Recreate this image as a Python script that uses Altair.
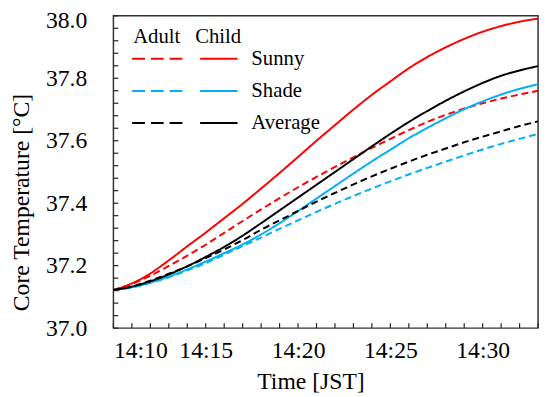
import altair as alt
import pandas as pd

# ---- data ----
minutes = list(range(10, 34))  # 14:10 ... 14:33

adult_sunny = [37.122, 37.142, 37.168, 37.199, 37.232, 37.267, 37.305, 37.343, 37.380, 37.416,
               37.451, 37.484, 37.516, 37.547, 37.577, 37.606, 37.634, 37.660, 37.683, 37.703,
               37.720, 37.735, 37.748, 37.760]
child_sunny = [37.122, 37.143, 37.175, 37.217, 37.262, 37.306, 37.352, 37.398, 37.447, 37.497,
               37.548, 37.600, 37.650, 37.700, 37.747, 37.790, 37.832, 37.868, 37.899, 37.926,
               37.949, 37.967, 37.981, 37.991]
adult_shade = [37.122, 37.130, 37.145, 37.163, 37.185, 37.208, 37.235, 37.263, 37.290, 37.318,
               37.345, 37.372, 37.398, 37.423, 37.447, 37.470, 37.492, 37.513, 37.533, 37.553,
               37.572, 37.590, 37.606, 37.622]
child_shade = [37.122, 37.131, 37.146, 37.165, 37.188, 37.213, 37.240, 37.268, 37.300, 37.336,
               37.375, 37.415, 37.455, 37.495, 37.534, 37.571, 37.608, 37.641, 37.672, 37.701,
               37.726, 37.748, 37.766, 37.781]
adult_average = [37.122, 37.133, 37.152, 37.174, 37.198, 37.224, 37.252, 37.282, 37.315, 37.345,
                 37.375, 37.405, 37.433, 37.460, 37.486, 37.510, 37.533, 37.555, 37.575, 37.595,
                 37.613, 37.630, 37.647, 37.662]
child_average = [37.122, 37.133, 37.150, 37.172, 37.198, 37.228, 37.260, 37.296, 37.336, 37.377,
                 37.418, 37.459, 37.500, 37.541, 37.582, 37.622, 37.660, 37.695, 37.728, 37.758,
                 37.785, 37.808, 37.825, 37.839]

groups = ["Adult", "Child"]
conditions = ["Sunny", "Shade", "Average"]
colors = ["#ff0000", "#00b0f0", "#000000"]

x_major = [10, 15, 20, 25, 30]
y_major = [37.0, 37.2, 37.4, 37.6, 37.8, 38.0]
x_minor = minutes
y_minor = [37.0, 37.04, 37.08, 37.12, 37.16, 37.2, 37.24, 37.28, 37.32, 37.36, 37.4,
           37.44, 37.48, 37.52, 37.56, 37.6, 37.64, 37.68, 37.72, 37.76, 37.8,
           37.84, 37.88, 37.92, 37.96, 38.0]

series = {
    ("Adult", "Sunny"): adult_sunny,
    ("Child", "Sunny"): child_sunny,
    ("Adult", "Shade"): adult_shade,
    ("Child", "Shade"): child_shade,
    ("Adult", "Average"): adult_average,
    ("Child", "Average"): child_average,
}
rows = []
for (g, c), vals in series.items():
    for m, v in zip(minutes, vals):
        rows.append({"minute": m, "temp": v, "group": g, "condition": c, "series": g + " " + c})
df = pd.DataFrame(rows)

# ---- layout ----
W, H = 431, 317
FONT = "Liberation Serif, Times New Roman, Times, DejaVu Serif, serif"
FRAME = "#333333"
TICK = 5

x_scale = alt.Scale(domain=[10, 33], nice=False, zero=False)
y_scale = alt.Scale(domain=[37.0, 38.0], nice=False, zero=False)

lines = alt.Chart(df).mark_line(strokeWidth=2, interpolate="monotone").encode(
    x=alt.X("minute:Q", scale=x_scale,
            axis=alt.Axis(values=x_major, labelExpr="'14:' + datum.value", ticks=False, tickSize=0,
                          domain=False, grid=False, labelFont=FONT, labelFontSize=24,
                          labelColor="black", labelPadding=11, title="Time [JST]",
                          titleFont=FONT, titleFontSize=24, titleFontWeight="normal",
                          titleColor="black", titleX=200, titleY=61,
                          titleBaseline="alphabetic")),
    y=alt.Y("temp:Q", scale=y_scale,
            axis=alt.Axis(values=y_major, format=".1f", ticks=False, tickSize=0, domain=False,
                          grid=False, labelFont=FONT, labelFontSize=24, labelColor="black",
                          labelPadding=27,
                          labelOffset={"condition": {"test": "datum.value >= 38", "value": 5},
                                       "value": 0},
                          title="Core Temperature [°C]", titleFont=FONT,
                          titleFontSize=24, titleFontWeight="normal", titleColor="black",
                          titleX=-86, titleY=189, titleBaseline="alphabetic",
                          titleAlign="center")),
    color=alt.Color("condition:N", scale=alt.Scale(domain=conditions, range=colors), legend=None),
    strokeDash=alt.StrokeDash("group:N", scale=alt.Scale(domain=groups, range=[[7, 4], [1, 0]]),
                              legend=None),
    detail="series:N",
)

# inward minor/major ticks, drawn from the tick value lists through the shared scales
xt_df = pd.DataFrame({"minute": x_minor})
yt_df = pd.DataFrame({"temp": y_minor})
x_ticks = alt.Chart(xt_df).mark_rule(color="#222222", strokeWidth=1.2).encode(
    x=alt.X("minute:Q", scale=x_scale), y=alt.value(H), y2=alt.value(H - TICK))
y_ticks = alt.Chart(yt_df).mark_rule(color="#222222", strokeWidth=1.2).encode(
    y=alt.Y("temp:Q", scale=y_scale), x=alt.value(0), x2=alt.value(TICK))

# ---- custom legend ----
one = pd.DataFrame({"k": [0]})
legend_layers = []


def txt(x, y, s):
    return alt.Chart(one).mark_text(align="left", baseline="middle", font=FONT, fontSize=21,
                                    color="black").encode(
        x=alt.value(x), y=alt.value(y), text=alt.value(s))


def rule(x1, x2, y, color, dash):
    return alt.Chart(one).mark_rule(color=color, strokeWidth=2, strokeDash=dash).encode(
        x=alt.value(x1), x2=alt.value(x2), y=alt.value(y))


legend_layers.append(txt(20, 22, "Adult"))
legend_layers.append(txt(83, 22, "Child"))
row_y = [43.7, 76.3, 108.7]
for cond, col, ry in zip(conditions, colors, row_y):
    legend_layers.append(rule(19, 72, ry, col, [13, 6]))
    legend_layers.append(rule(88, 126, ry, col, [1, 0]))
    legend_layers.append(txt(140, ry, cond))

chart = alt.layer(lines, x_ticks, y_ticks, *legend_layers).properties(
    width=W, height=H,
    autosize=alt.AutoSizeParams(type="none"),
    padding={"left": 107, "top": 5, "right": 4, "bottom": 67},
).configure_view(stroke=FRAME, strokeWidth=1.5)

chart.save("out.html", embed_options={"renderer": "svg", "actions": False})
